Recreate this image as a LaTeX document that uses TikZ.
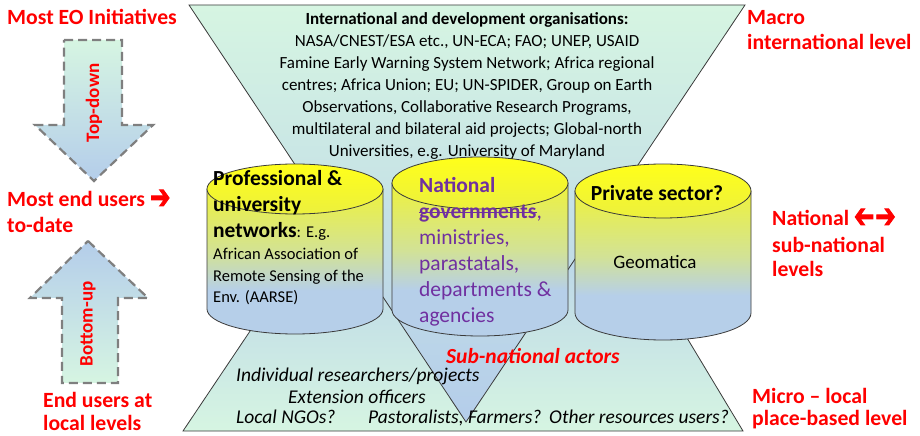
\documentclass[tikz,border=0pt]{standalone}
\usepackage{fontspec}
\setmainfont{Carlito}
\newfontfamily\symfont[FakeBold=3]{DejaVu Sans}
\usepackage{graphicx}
\definecolor{mint}{HTML}{D6F5E2}
\definecolor{lblue}{HTML}{B4CDEA}
\definecolor{cyly}{HTML}{EEF23C}
\definecolor{cylm}{HTML}{D2E296}
\definecolor{cylb}{HTML}{B6CFE9}
\definecolor{ytop}{HTML}{FFFF1A}
\definecolor{ybot}{HTML}{ECF03E}
\definecolor{redlab}{HTML}{FF0000}
\definecolor{purp}{HTML}{7030A0}
\definecolor{dashgray}{HTML}{7F7F7F}
\definecolor{edge}{HTML}{3A3A3A}
\pgfdeclareverticalshading{cylbody}{100bp}{color(0bp)=(cylb); color(25bp)=(cylb); color(40bp)=(cylb); color(53bp)=(cylm); color(75bp)=(cyly); color(100bp)=(cyly)}
\newcommand\mycyl[6]{%
  \shade[shading=cylbody] (#2-#5,#3) -- (#2-#5,#4) arc[start angle=180,end angle=360,x radius=#5bp,y radius=#6bp] -- (#2+#5,#3) -- cycle;
  \draw[edgeline] (#2-#5,#3) -- (#2-#5,#4) arc[start angle=180,end angle=360,x radius=#5bp,y radius=#6bp] -- (#2+#5,#3);
  \shadedraw[top color=ytop, bottom color=ybot, edgeline] (#2,#3) ellipse [x radius=#5bp, y radius=#6bp];
  \coordinate (#1) at (#2,#3);
}
\newcommand\heavyarr{{\symfont\raisebox{-1.5bp}{\scalebox{1.12}[1.55]{➔}}}}
\tikzset{
  edgeline/.style={draw=edge, line width=0.8bp},
  redlabel/.style={text=redlab, font=\fontsize{21.7bp}{26bp}\selectfont\bfseries, anchor=base west, inner sep=0pt},
  bigb/.style={font=\fontsize{21.5bp}{26bp}\selectfont\bfseries, anchor=base west, inner sep=0pt},
  smallr/.style={font=\fontsize{16.5bp}{20bp}\selectfont, anchor=base west, inner sep=0pt},
  purptext/.style={text=purp, font=\fontsize{21.5bp}{26bp}\selectfont, anchor=base west, inner sep=0pt},
  localtext/.style={font=\fontsize{19.5bp}{22bp}\selectfont\itshape, anchor=base west, inner sep=0pt},
  bigarrow/.style={draw=dashgray, line width=2.2bp, dash pattern=on 9bp off 5bp, line join=miter},
  arrowtext/.style={text=redlab, font=\fontsize{19bp}{22bp}\selectfont\bfseries, rotate=90, inner sep=0pt}
}
\begin{document}
\begin{tikzpicture}[x=1bp,y=-1bp]
\useasboundingbox (0,0) rectangle (920,436);
% bottom micro-level triangle
\shade[top color=lblue, middle color=lblue, bottom color=mint] (183,431) -- (338,200) -- (604,200) -- (743,431) -- cycle;
\draw[edgeline] (338,200) -- (183,431) -- (743,431) -- (604,200);
% top macro-level funnel
\shadedraw[top color=mint, bottom color=lblue, edgeline] (189,5) -- (745,5) -- (466,422) -- cycle;
% cylinders
\mycyl{cylA}{295}{189}{309}{88}{25}
\mycyl{cylB}{480}{183}{310}{88}{26}
\mycyl{cylC}{663}{191}{313}{88}{27}
% top text
\node[align=center, font=\fontsize{17bp}{22bp}\selectfont, inner sep=0pt] (intl) at (467,86)
 {\textbf{International and development organisations:}\\
  NASA/CNEST/ESA etc., UN-ECA; FAO; UNEP, USAID\\
  Famine Early Warning System Network; Africa regional\\
  centres; Africa Union; EU; UN-SPIDER, Group on Earth\\
  Observations, Collaborative Research Programs,\\
  multilateral and bilateral aid projects; Global-north\\
  Universities, e.g. University of Maryland};
% left cylinder text
\node[bigb] (pl1) at (213,186) {Professional \&};
\node[bigb] (pl2) at (213,212) {university};
\node[bigb] (pl3) at (213,238) {networks{\mdseries\fontsize{16.5bp}{20bp}\selectfont: E.g.}};
\node[smallr] (pl4) at (213,260) {African Association of};
\node[smallr] (pl5) at (213,282) {Remote Sensing of the};
\node[smallr] (pl6) at (213,303) {Env. (AARSE)};
% middle cylinder text
\node[purptext] (m1) at (419,193) {\textbf{National}};
\node[purptext] (m2) at (419,219) {\textbf{governments}};
\node[purptext] (m2c) at (m2.base east) {,};
\draw[purp, line width=1.3bp] ([yshift=6.5bp]m2.base west) -- ([yshift=6.5bp]m2.base east);
\node[purptext] (m3) at (419,245) {ministries,};
\node[purptext] (m4) at (419,271) {parastatals,};
\node[purptext] (m5) at (419,297) {departments \&};
\node[purptext] (m6) at (419,323) {agencies};
% right cylinder text
\node[bigb, anchor=base] (pr1) at (657,201) {Private sector?};
\node[font=\fontsize{19bp}{22bp}\selectfont, anchor=base, inner sep=0pt] (pr2) at (655,269) {Geomatica};
% local level texts
\node[localtext, text=redlab, font=\fontsize{21.5bp}{24bp}\selectfont\bfseries\itshape] (sub) at (446,364) {Sub-national actors};
\node[localtext] (b1) at (236,382) {Individual researchers/projects};
\node[localtext] (b2) at (288,403) {Extension officers};
\node[localtext] (b3) at (236,423) {Local NGOs?};
\node[localtext] (b4) at (368,423) {Pastoralists, Farmers?};
\node[localtext, anchor=base east] (b5) at (729,423) {Other resources users?};
% left labels
\node[redlabel] (l1) at (7,25) {Most EO Initiatives};
\node[redlabel] (l2) at (7,207) {Most end users \heavyarr};
\node[redlabel] (l3) at (7,233) {to-date};
\node[redlabel] (l4) at (43,407) {End users at};
\node[redlabel] (l5) at (43,430) {local levels};
% right labels
\node[redlabel] (r1) at (747,25) {Macro};
\node[redlabel] (r2) at (747,50) {international level};
\node[redlabel] (r3) at (772,226) {National {\reflectbox{\heavyarr}\kern1bp\heavyarr}};
\node[redlabel] (r4) at (772,253) {sub-national};
\node[redlabel] (r5) at (772,277) {levels};
\node[redlabel] (r6) at (752,403) {Micro – local};
\node[redlabel] (r7) at (752,425) {place-based level};
% big dashed arrows
\shadedraw[top color=mint, bottom color=lblue, bigarrow] (64,40) -- (122,40) -- (122,125) -- (153,125) -- (94,181) -- (35,125) -- (64,125) -- cycle;
\shadedraw[top color=lblue, bottom color=mint, bigarrow] (88,241) -- (148,298) -- (118,298) -- (118,383) -- (62,383) -- (62,298) -- (30,298) -- cycle;
\node[arrowtext] (td) at (94,103) {Top-down};
\node[arrowtext] (bu) at (88,324) {Bottom-up};
\end{tikzpicture}
\end{document}
